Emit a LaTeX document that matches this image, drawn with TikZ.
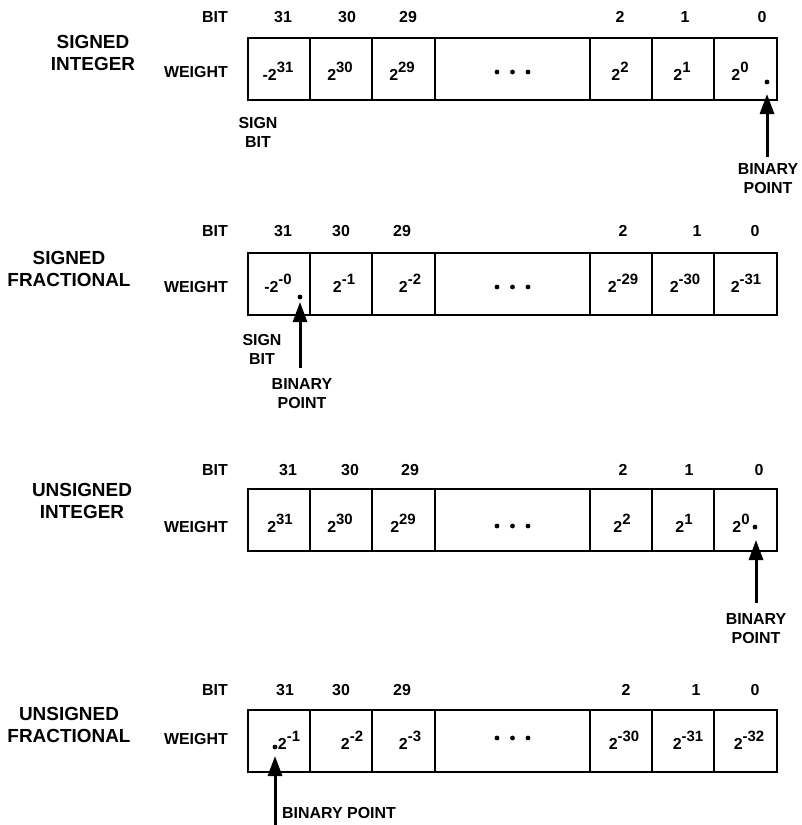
\documentclass[tikz,border=0pt]{standalone}
\usepackage{fontspec}
\setmainfont{Liberation Sans}
\usetikzlibrary{arrows.meta}
\newcommand{\pw}[2]{#1\raisebox{8bp}{\fontsize{15}{15}\selectfont #2}}
\tikzset{
  cellbox/.style={draw, line width=1.4bp, minimum height=62bp, inner sep=0pt, outer sep=0pt, anchor=north west},
  lbl/.style={font=\fontsize{16}{19}\selectfont\bfseries, inner sep=0pt},
  wt/.style={font=\fontsize{16}{19}\selectfont\bfseries, inner sep=0pt, anchor=base},
  ttl/.style={font=\fontsize{19}{23}\selectfont\bfseries, inner sep=0pt, align=center},
  bplbl/.style={font=\fontsize{16}{19}\selectfont\bfseries, inner sep=0pt, align=center},
  bparrow/.style={line width=3bp, -{Triangle[width=14bp,length=20bp]}},
  ptdot/.style={fill=black},
}
\begin{document}
\begin{tikzpicture}[x=1bp,y=-1bp]
\useasboundingbox (0,0) rectangle (802,825);

% ---------- Row 1: SIGNED INTEGER ----------
\begin{scope}[shift={(0,38)}]
  \foreach \n/\xl/\w in {31/248/62,30/310/62,29/372/63,d/435/155,2/590/62,1/652/62,0/714/63}
    \node[cellbox, minimum width=\w bp] (r1c\n) at (\xl,0) {};
  \node[ttl] (r1title) at (93,15) {SIGNED\\INTEGER};
  \node[lbl, anchor=base east] (r1bit) at (228,-15.5) {BIT};
  \node[lbl, anchor=base east] (r1wlab) at (228,39) {WEIGHT};
  \foreach \n/\x in {31/283,30/347,29/408,2/620,1/685,0/762}
    \node[lbl, anchor=base] (r1b\n) at (\x,-15.5) {\n};
  \node[wt] (r1w31) at (278,42) {-\pw{2}{31}};
  \node[wt] (r1w30) at (340,42) {\pw{2}{30}};
  \node[wt] (r1w29) at (402,42) {\pw{2}{29}};
  \node[wt] (r1w2)  at (620,42) {\pw{2}{2}};
  \node[wt] (r1w1)  at (682,42) {\pw{2}{1}};
  \node[wt] (r1w0)  at (740,42) {\pw{2}{0}};
  \foreach \dx in {-15.5,0,15.5}
    \fill ([shift={(\dx,3)}]r1cd.center) circle (2.4bp);
  \coordinate (r1pt) at (767,44);
  \fill[ptdot] (r1pt) circle (2.4bp);
  \coordinate (r1tail) at (767,119);
  \coordinate (r1tip) at (767,56);
  \draw[bparrow] (r1tail) -- (r1tip);
  \node[lbl, align=center] (r1sign) at (258,94) {SIGN\\BIT};
  \node[bplbl] (r1bp) at (768,141) {BINARY\\POINT};
\end{scope}

% ---------- Row 2: SIGNED FRACTIONAL ----------
\begin{scope}[shift={(0,253)}]
  \foreach \n/\xl/\w in {31/248/62,30/310/62,29/372/63,d/435/155,2/590/62,1/652/62,0/714/63}
    \node[cellbox, minimum width=\w bp] (r2c\n) at (\xl,0) {};
  \node[ttl] (r2title) at (69,16) {SIGNED\\FRACTIONAL};
  \node[lbl, anchor=base east] (r2bit) at (228,-16.5) {BIT};
  \node[lbl, anchor=base east] (r2wlab) at (228,39) {WEIGHT};
  \foreach \n/\x in {31/283,30/341,29/402,2/623,1/697,0/755}
    \node[lbl, anchor=base] (r2b\n) at (\x,-16.5) {\n};
  \node[wt] (r2w31) at (278,39) {-\pw{2}{-0}};
  \node[wt] (r2w30) at (344,39) {\pw{2}{-1}};
  \node[wt] (r2w29) at (410,39) {\pw{2}{-2}};
  \node[wt] (r2w2)  at (623,39) {\pw{2}{-29}};
  \node[wt] (r2w1)  at (685,39) {\pw{2}{-30}};
  \node[wt] (r2w0)  at (746,39) {\pw{2}{-31}};
  \foreach \dx in {-15.5,0,15.5}
    \fill ([shift={(\dx,3)}]r2cd.center) circle (2.4bp);
  \coordinate (r2pt) at (300,44);
  \fill[ptdot] (r2pt) circle (2.4bp);
  \coordinate (r2tail) at (300,115);
  \coordinate (r2tip) at (300,49);
  \draw[bparrow] (r2tail) -- (r2tip);
  \node[lbl, align=center] (r2sign) at (262,96) {SIGN\\BIT};
  \node[bplbl] (r2bp) at (302,141) {BINARY\\POINT};
\end{scope}

% ---------- Row 3: UNSIGNED INTEGER ----------
\begin{scope}[shift={(0,489)}]
  \foreach \n/\xl/\w in {31/248/62,30/310/62,29/372/63,d/435/155,2/590/62,1/652/62,0/714/63}
    \node[cellbox, minimum width=\w bp] (r3c\n) at (\xl,0) {};
  \node[ttl] (r3title) at (82,12) {UNSIGNED\\INTEGER};
  \node[lbl, anchor=base east] (r3bit) at (228,-13.5) {BIT};
  \node[lbl, anchor=base east] (r3wlab) at (228,43) {WEIGHT};
  \foreach \n/\x in {31/288,30/350,29/410,2/623,1/689,0/759}
    \node[lbl, anchor=base] (r3b\n) at (\x,-13.5) {\n};
  \node[wt] (r3w31) at (280,43) {\pw{2}{31}};
  \node[wt] (r3w30) at (340,43) {\pw{2}{30}};
  \node[wt] (r3w29) at (403,43) {\pw{2}{29}};
  \node[wt] (r3w2)  at (622,43) {\pw{2}{2}};
  \node[wt] (r3w1)  at (684,43) {\pw{2}{1}};
  \node[wt] (r3w0)  at (741,43) {\pw{2}{0}};
  \foreach \dx in {-15.5,0,15.5}
    \fill ([shift={(\dx,6)}]r3cd.center) circle (2.4bp);
  \coordinate (r3pt) at (755,38);
  \fill[ptdot] (r3pt) circle (2.4bp);
  \coordinate (r3tail) at (756,114);
  \coordinate (r3tip) at (756,51);
  \draw[bparrow] (r3tail) -- (r3tip);
  \node[bplbl] (r3bp) at (756,140) {BINARY\\POINT};
\end{scope}

% ---------- Row 4: UNSIGNED FRACTIONAL ----------
\begin{scope}[shift={(0,710)}]
  \foreach \n/\xl/\w in {31/248/62,30/310/62,29/372/63,d/435/155,2/590/62,1/652/62,0/714/63}
    \node[cellbox, minimum width=\w bp] (r4c\n) at (\xl,0) {};
  \node[ttl] (r4title) at (69,15) {UNSIGNED\\FRACTIONAL};
  \node[lbl, anchor=base east] (r4bit) at (228,-14.5) {BIT};
  \node[lbl, anchor=base east] (r4wlab) at (228,34) {WEIGHT};
  \foreach \n/\x in {31/285,30/341,29/402,2/626,1/696,0/755}
    \node[lbl, anchor=base] (r4b\n) at (\x,-14.5) {\n};
  \node[wt] (r4w31) at (289,39) {\pw{2}{-1}};
  \node[wt] (r4w30) at (352,39) {\pw{2}{-2}};
  \node[wt] (r4w29) at (410,39) {\pw{2}{-3}};
  \node[wt] (r4w2)  at (624,39) {\pw{2}{-30}};
  \node[wt] (r4w1)  at (688,39) {\pw{2}{-31}};
  \node[wt] (r4w0)  at (749,39) {\pw{2}{-32}};
  \foreach \dx in {-15.5,0,15.5}
    \fill ([shift={(\dx,-3)}]r4cd.center) circle (2.4bp);
  \coordinate (r4pt) at (275,37);
  \fill[ptdot] (r4pt) circle (2.4bp);
  \coordinate (r4tail) at (275,115);
  \coordinate (r4tip) at (275,46);
  \draw[bparrow] (r4tail) -- (r4tip);
  \node[bplbl, anchor=west] (r4bp) at (282,103) {BINARY POINT};
\end{scope}
\end{tikzpicture}
\end{document}
